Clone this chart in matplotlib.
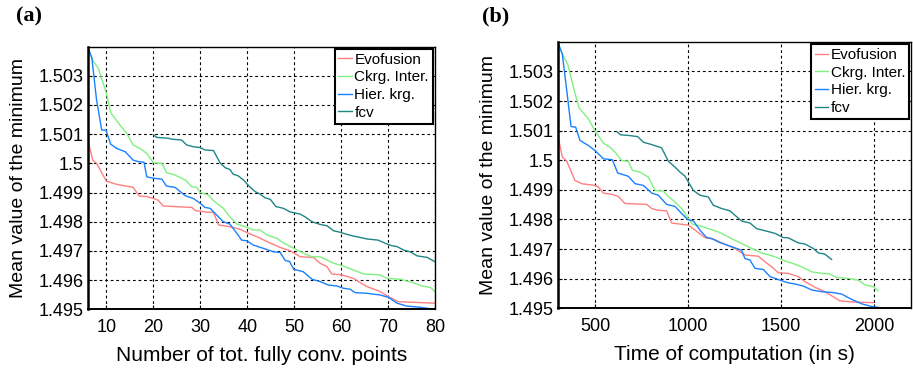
import matplotlib
matplotlib.use("Agg")
import matplotlib.pyplot as plt

plt.rcParams['font.family'] = ['Liberation Sans', 'DejaVu Sans']

# ---- data, panel (a): x = number of tot. fully conv. points
pts_evo = [6, 7.1, 7.9, 10, 12.2, 15.7, 17, 18.6, 20, 21, 22.1, 28.2, 29, 31.4, 32.8, 33.9, 36.3, 38.5,
           40.3, 42, 44.2, 47, 49.1, 51.3, 54.1, 55.5, 57, 58, 60.2, 62.6, 64.1, 65.5, 68.3, 70.1, 72.2, 75.4, 80]
evo_a = [1.50082, 1.50011, 1.50000, 1.49939, 1.49928, 1.49918, 1.49888, 1.49886, 1.49880, 1.49874, 1.49854,
         1.49849, 1.49838, 1.49833, 1.49832, 1.49789, 1.49783, 1.49774, 1.49760, 1.49749, 1.49732, 1.49712,
         1.49701, 1.49680, 1.49678, 1.49658, 1.49646, 1.49621, 1.49618, 1.49606, 1.49591, 1.49578, 1.49561,
         1.49543, 1.49526, 1.49524, 1.49521]

pts_ckrg = [6, 7.2, 8.3, 10, 10.9, 12.9, 14.3, 15.7, 17.2, 18.6, 20, 21.8, 22.8, 24.6, 26.8, 28.2, 29.2, 30,
            31.7, 32.8, 34.9, 36.3, 37.8, 39.9, 41.3, 42.7, 44.2, 46.3, 47.7, 49.9, 52, 53.8, 55.5, 58.4, 60.5,
            62.6, 64.8, 68.3, 69.8, 72.6, 75.4, 77.2, 79, 80]
ckrg_a = [1.50400, 1.50350, 1.50325, 1.50240, 1.50174, 1.50131, 1.50103, 1.50063, 1.50051, 1.50034, 1.50002,
          1.50000, 1.49968, 1.49960, 1.49943, 1.49920, 1.49918, 1.49900, 1.49892, 1.49872, 1.49846, 1.49817,
          1.49792, 1.49781, 1.49772, 1.49772, 1.49755, 1.49743, 1.49728, 1.49709, 1.49692, 1.49680, 1.49680,
          1.49658, 1.49648, 1.49635, 1.49621, 1.49618, 1.49606, 1.49603, 1.49591, 1.49580, 1.49575, 1.49561]

pts_hier = [6, 6.9, 7.9, 9, 9.9, 10.9, 12.2, 14, 15.7, 16.8, 18, 18.6, 20, 21.8, 22.8, 24.6, 26.8, 28.5, 30,
            31, 32.1, 33.5, 34.9, 36.3, 37.8, 38.8, 39.9, 41.3, 43.4, 45.6, 47, 48.1, 49, 49.9, 51.9, 53.8,
            55.5, 57.3, 59.1, 60.5, 61.9, 63, 65.5, 68.3, 70.1, 71.9, 74, 76.9, 79, 80]
hier_a = [1.50400, 1.50360, 1.50217, 1.50114, 1.50114, 1.50066, 1.50051, 1.50040, 1.50011, 1.50006, 1.50004,
          1.49954, 1.49949, 1.49946, 1.49922, 1.49918, 1.49889, 1.49880, 1.49863, 1.49849, 1.49846, 1.49823,
          1.49800, 1.49792, 1.49760, 1.49737, 1.49735, 1.49720, 1.49709, 1.49697, 1.49695, 1.49667, 1.49664,
          1.49637, 1.49629, 1.49603, 1.49595, 1.49583, 1.49580, 1.49572, 1.49569, 1.49557, 1.49555, 1.49549,
          1.49541, 1.49521, 1.49511, 1.49507, 1.49502, 1.49500]

pts_fcv = [20.1, 20.7, 23.2, 23.9, 26, 27.1, 28.5, 30, 31, 32.8, 34.2, 35.3, 36.3, 37, 38.1, 39.2, 40.5, 41.7,
           42.7, 43.8, 44.9, 46.1, 47.7, 49.1, 51.3, 52.3, 53.8, 55.5, 57, 58.4, 59.8, 61.2, 62.6, 64.4, 65.5,
           67.9, 69.4, 70.8, 71.9, 73.3, 74.7, 76.2, 78.3, 80]
fcv_a = [1.50097, 1.50089, 1.50086, 1.50083, 1.50080, 1.50063, 1.50057, 1.50054, 1.50046, 1.50044, 1.50002,
         1.49985, 1.49979, 1.49963, 1.49957, 1.49943, 1.49920, 1.49903, 1.49895, 1.49882, 1.49877, 1.49852,
         1.49846, 1.49834, 1.49826, 1.49817, 1.49800, 1.49791, 1.49786, 1.49769, 1.49764, 1.49757, 1.49751,
         1.49745, 1.49741, 1.49737, 1.49726, 1.49718, 1.49715, 1.49703, 1.49697, 1.49683, 1.49678, 1.49663]

# ---- data, panel (b): x = time of computation (s)
t_evo = [300, 324, 348, 392, 428, 500, 518, 545, 590, 625, 661, 778, 805, 840, 885, 912, 1002, 1038, 1091,
         1145, 1181, 1253, 1306, 1378, 1414, 1450, 1486, 1539, 1593, 1629, 1683, 1736, 1781, 1817, 1898, 1996]
evo_b = [1.50084, 1.50011, 1.49997, 1.49932, 1.49921, 1.49915, 1.49910, 1.49889, 1.49885, 1.49878, 1.49854,
         1.49851, 1.49837, 1.49831, 1.49829, 1.49788, 1.49781, 1.49764, 1.49739, 1.49732, 1.49721, 1.49702,
         1.49680, 1.49676, 1.49657, 1.49640, 1.49620, 1.49618, 1.49607, 1.49590, 1.49571, 1.49556, 1.49539,
         1.49525, 1.49521, 1.49519]

t_ckrg = [300, 324, 353, 384, 414, 464, 500, 545, 581, 608, 643, 679, 701, 742, 787, 823, 867, 894, 930, 966,
          1002, 1023, 1073, 1109, 1163, 1199, 1244, 1288, 1342, 1396, 1468, 1521, 1575, 1611, 1665, 1719, 1763,
          1799, 1862, 1916, 1952, 1996, 2023]
ckrg_b = [1.50398, 1.50359, 1.50325, 1.50246, 1.50177, 1.50140, 1.50100, 1.50058, 1.50044, 1.50027, 1.49999,
          1.49997, 1.49966, 1.49960, 1.49943, 1.49898, 1.49896, 1.49878, 1.49859, 1.49837, 1.49803, 1.49784,
          1.49777, 1.49769, 1.49758, 1.49747, 1.49732, 1.49719, 1.49702, 1.49687, 1.49674, 1.49660, 1.49649,
          1.49640, 1.49623, 1.49618, 1.49616, 1.49604, 1.49601, 1.49595, 1.49579, 1.49573, 1.49559]

t_hier = [300, 324, 348, 371, 396, 419, 464, 500, 545, 593, 622, 679, 715, 760, 805, 840, 885, 930, 966, 998,
          1029, 1064, 1100, 1127, 1163, 1235, 1288, 1306, 1333, 1360, 1405, 1441, 1495, 1539, 1575, 1620, 1665,
          1719, 1781, 1826, 1880, 1934, 1988, 2059]
hier_b = [1.50398, 1.50359, 1.50235, 1.50114, 1.50112, 1.50067, 1.50050, 1.50033, 1.50005, 1.50002, 1.49957,
          1.49946, 1.49921, 1.49915, 1.49889, 1.49882, 1.49851, 1.49844, 1.49820, 1.49800, 1.49795, 1.49764,
          1.49739, 1.49736, 1.49724, 1.49708, 1.49696, 1.49668, 1.49663, 1.49635, 1.49631, 1.49607, 1.49595,
          1.49586, 1.49582, 1.49575, 1.49562, 1.49556, 1.49553, 1.49548, 1.49530, 1.49515, 1.49506, 1.49500]

t_fcv = [620, 638, 679, 729, 760, 805, 858, 894, 930, 957, 984, 1002, 1029, 1064, 1109, 1136, 1181, 1226, 1253,
         1288, 1333, 1369, 1414, 1468, 1512, 1539, 1593, 1629, 1674, 1701, 1736, 1772]
fcv_b = [1.50095, 1.50086, 1.50084, 1.50080, 1.50061, 1.50053, 1.50042, 1.49997, 1.49977, 1.49960, 1.49946,
         1.49926, 1.49898, 1.49882, 1.49876, 1.49848, 1.49837, 1.49829, 1.49814, 1.49795, 1.49788, 1.49769,
         1.49762, 1.49753, 1.49739, 1.49738, 1.49721, 1.49717, 1.49702, 1.49687, 1.49683, 1.49665]

labels = ['Evofusion', 'Ckrg. Inter.', 'Hier. krg.', 'fcv']
colors = ['#ff8080', '#80f080', '#1a80ff', '#1f8585']

yticks = [1.495, 1.496, 1.497, 1.498, 1.499, 1.500, 1.501, 1.502, 1.503]
ytick_labels = ['1.495', '1.496', '1.497', '1.498', '1.499', '1.5', '1.501', '1.502', '1.503']


def style_axes(ax, xlabel):
    ax.set_ylim(1.495, 1.504)
    ax.set_yticks(yticks)
    ax.set_yticklabels(ytick_labels)
    ax.grid(True, color='black', linestyle=(0, (2.5, 2.5)), linewidth=0.8)
    ax.tick_params(direction='in', length=3, labelsize=13)
    ax.tick_params(axis='x', pad=7)
    ax.tick_params(axis='y', pad=3)
    for s in ax.spines.values():
        s.set_linewidth(1.0)
    ax.spines['left'].set_linewidth(1.8)
    ax.spines['bottom'].set_linewidth(1.4)
    ax.set_xlabel(xlabel, fontsize=15, labelpad=7)
    ax.set_ylabel('Mean value of the minimum', fontsize=14, labelpad=8)
    leg = ax.legend(loc='upper right', fontsize=11, fancybox=False, framealpha=1,
                    edgecolor='black', handlelength=0.9, handletextpad=0.15,
                    labelspacing=0.24, borderpad=0.25, borderaxespad=0.15)
    leg.get_frame().set_linewidth(1.5)


fig = plt.figure(figsize=(9.13, 3.7), dpi=100)

ax1 = fig.add_axes([0.096, 0.164, 0.3805, 0.710])
ax1.plot(pts_evo, evo_a, color=colors[0], lw=1.0, label=labels[0])
ax1.plot(pts_ckrg, ckrg_a, color=colors[1], lw=1.0, label=labels[1])
ax1.plot(pts_hier, hier_a, color=colors[2], lw=1.0, label=labels[2])
ax1.plot(pts_fcv, fcv_a, color=colors[3], lw=1.0, label=labels[3])
ax1.set_xlim(6, 80)
ax1.set_xticks([10, 20, 30, 40, 50, 60, 70, 80])
style_axes(ax1, 'Number of tot. fully conv. points')

ax2 = fig.add_axes([0.611, 0.1668, 0.387, 0.720])
ax2.plot(t_evo, evo_b, color=colors[0], lw=1.0, label=labels[0])
ax2.plot(t_ckrg, ckrg_b, color=colors[1], lw=1.0, label=labels[1])
ax2.plot(t_hier, hier_b, color=colors[2], lw=1.0, label=labels[2])
ax2.plot(t_fcv, fcv_b, color=colors[3], lw=1.0, label=labels[3])
ax2.set_xlim(300, 2200)
ax2.set_xticks([500, 1000, 1500, 2000])
style_axes(ax2, 'Time of computation (in s)')

fig.text(0.017, 0.955, '(a)', fontsize=16, fontweight='bold', family='Liberation Serif', va='center')
fig.text(0.528, 0.955, '(b)', fontsize=16, fontweight='bold', family='Liberation Serif', va='center')

fig.savefig('out.png', dpi=100)
